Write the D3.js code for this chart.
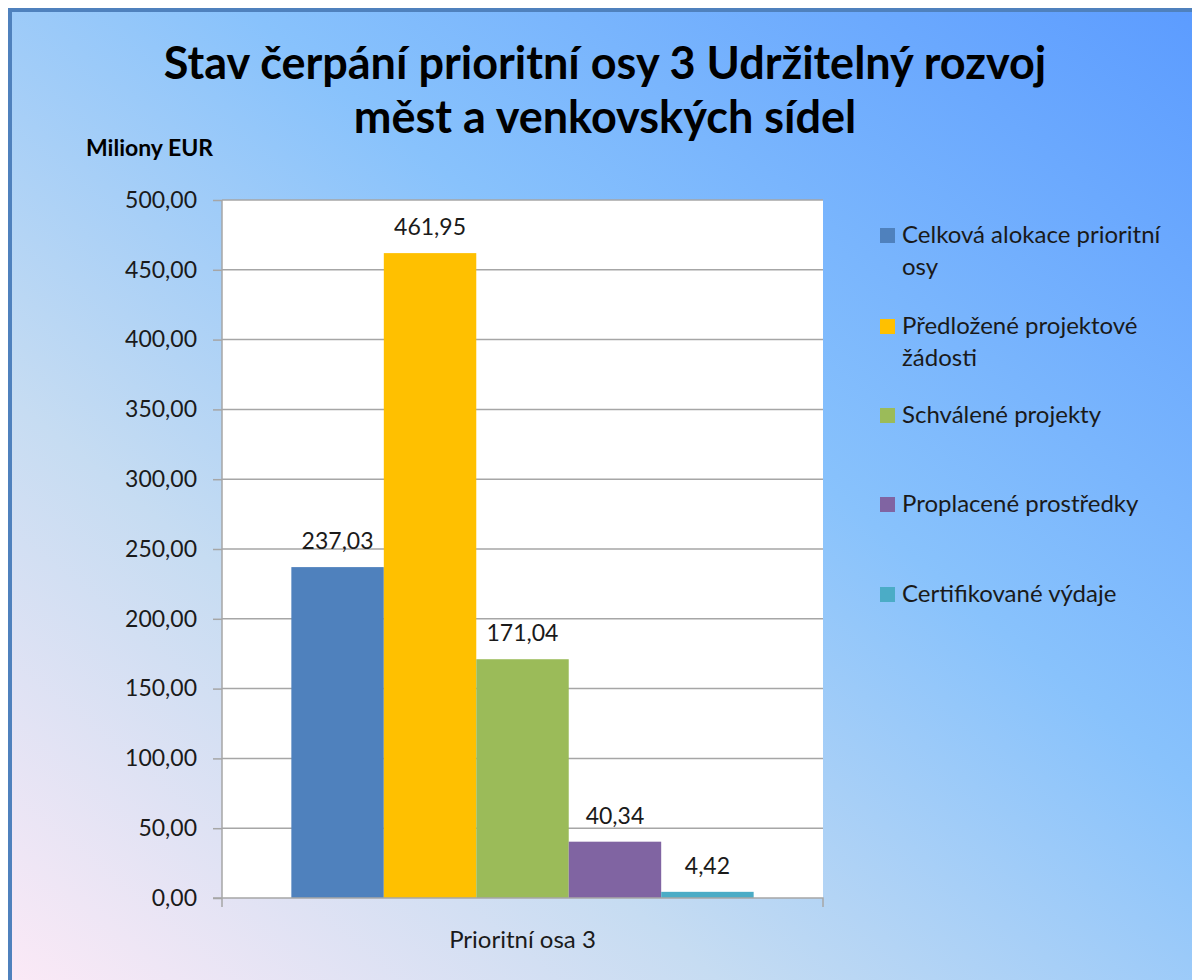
<!DOCTYPE html>
<html>
<head>
<meta charset="utf-8">
<script src="https://cdn.jsdelivr.net/npm/d3@7"></script>
<style>
  body { margin: 0; background: #fff; }
  svg text { font-family: Lato, "Open Sans", sans-serif; fill: #1a1a1a; }
</style>
</head>
<body>
<div id="wrapper"></div>
<script>
// data
const category = "Prioritní osa 3"
const series = ["Celková alokace prioritní osy", "Předložené projektové žádosti",
  "Schválené projekty", "Proplacené prostředky", "Certifikované výdaje"]
const values = [237.03, 461.95, 171.04, 40.34, 4.42]
const colors = ["#4f81bd", "#ffc000", "#9bbb59", "#8064a2", "#4bacc6"]
const legendLines = [["Celková alokace prioritní", "osy"], ["Předložené projektové", "žádosti"],
  ["Schválené projekty"], ["Proplacené prostředky"], ["Certifikované výdaje"]]
const yTicks = [0, 50, 100, 150, 200, 250, 300, 350, 400, 450, 500]
const titleLines = ["Stav čerpání prioritní osy 3 Udržitelný rozvoj", "měst a venkovských sídel"]

const cz = d3.formatLocale({ decimal: ",", thousands: " ", grouping: [3], currency: ["", " EUR"] })
const fmt = cz.format(".2f")

let dimensions = {
  width: 1192,
  height: 980,
  margin: { top: 200, right: 369, bottom: 82, left: 222 },
}
dimensions.boundedWidth = dimensions.width - dimensions.margin.left - dimensions.margin.right
dimensions.boundedHeight = dimensions.height - dimensions.margin.top - dimensions.margin.bottom

const svg = d3.select("#wrapper").append("svg")
  .attr("width", dimensions.width)
  .attr("height", dimensions.height)

// background gradient, pinkish bottom-left to blue top-right
const defs = svg.append("defs")
const grad = defs.append("linearGradient")
  .attr("id", "bg")
  .attr("x1", "0%").attr("y1", "100%")
  .attr("x2", "100%").attr("y2", "0%")
grad.append("stop").attr("offset", "0%").attr("stop-color", "#fbe9f6")
grad.append("stop").attr("offset", "30%").attr("stop-color", "#c6dcf2")
grad.append("stop").attr("offset", "60%").attr("stop-color", "#88c2fc")
grad.append("stop").attr("offset", "100%").attr("stop-color", "#5c9cff")

svg.append("rect")
  .attr("x", 10).attr("y", 10)
  .attr("width", dimensions.width - 10).attr("height", dimensions.height - 10)
  .attr("fill", "url(#bg)")
svg.append("path")
  .attr("d", `M10,${dimensions.height} V10 H${dimensions.width}`)
  .attr("fill", "none")
  .attr("stroke", "#4f81bd")
  .attr("stroke-width", 4)

// title
svg.append("g").selectAll("text")
  .data(titleLines)
  .join("text")
    .attr("x", 605)
    .attr("y", (d, i) => 79 + i * 54)
    .attr("text-anchor", "middle")
    .style("font-size", "45px")
    .style("font-weight", "bold")
    .style("fill", "#000")
    .text(d => d)

svg.append("text")
  .attr("x", 86).attr("y", 156)
  .style("font-size", "23px")
  .style("font-weight", "bold")
  .style("fill", "#000")
  .text("Miliony EUR")

const bounds = svg.append("g")
  .attr("transform", `translate(${dimensions.margin.left},${dimensions.margin.top})`)

const yScale = d3.scaleLinear()
  .domain([0, 500])
  .range([dimensions.boundedHeight, 0])

const xOuter = d3.scaleBand()
  .domain([category])
  .range([0, dimensions.boundedWidth])
  .paddingInner(0)
  .paddingOuter(0)

// gap width 150% of one bar => 5 bars + 1.5 bars of space
const barW = xOuter.bandwidth() / (series.length + 1.5)
const xInner = d3.scaleBand()
  .domain(series)
  .range([barW * 0.75, barW * 0.75 + barW * series.length])

bounds.append("rect")
  .attr("width", dimensions.boundedWidth)
  .attr("height", dimensions.boundedHeight)
  .attr("fill", "#fff")

// gridlines
bounds.append("g").selectAll("line")
  .data(yTicks.slice(1))
  .join("line")
    .attr("x1", 0).attr("x2", dimensions.boundedWidth)
    .attr("y1", d => yScale(d)).attr("y2", d => yScale(d))
    .attr("stroke", "#a6a6a6")
    .attr("stroke-width", 1.5)

// bars
bounds.append("g").selectAll("rect")
  .data(values)
  .join("rect")
    .attr("x", (d, i) => xOuter(category) + xInner(series[i]))
    .attr("y", d => yScale(d))
    .attr("width", xInner.bandwidth())
    .attr("height", d => yScale(0) - yScale(d))
    .attr("fill", (d, i) => colors[i])

bounds.append("g").selectAll("text")
  .data(values)
  .join("text")
    .attr("x", (d, i) => xOuter(category) + xInner(series[i]) + xInner.bandwidth() / 2)
    .attr("y", d => yScale(d) - 18)
    .attr("text-anchor", "middle")
    .style("font-size", "23px")
    .text(d => fmt(d))

// y axis
const yAxis = d3.axisLeft(yScale)
  .tickValues(yTicks)
  .tickFormat(fmt)
  .tickSize(9)
  .tickPadding(16)
const yAxisG = bounds.append("g").call(yAxis)
yAxisG.select(".domain").attr("stroke", "#a6a6a6").attr("stroke-width", 1.5)
  .attr("d", `M0,0V${dimensions.boundedHeight + 9}`)
yAxisG.selectAll(".tick line").attr("stroke", "#a6a6a6").attr("stroke-width", 1.5)
yAxisG.selectAll(".tick text")
  .style("font-size", "23px")
  .style("font-family", "Lato, 'Open Sans', sans-serif")
  .attr("fill", "#1a1a1a")

// x axis
const xAxis = d3.axisBottom(xOuter).tickSize(0).tickPadding(33)
const xAxisG = bounds.append("g")
  .attr("transform", `translate(0,${dimensions.boundedHeight})`)
  .call(xAxis)
xAxisG.select(".domain").attr("stroke", "#a6a6a6").attr("stroke-width", 1.5)
  .attr("d", `M-9,0H${dimensions.boundedWidth}V9`)
xAxisG.selectAll(".tick text")
  .style("font-size", "24px")
  .style("font-family", "Lato, 'Open Sans', sans-serif")
  .attr("fill", "#1a1a1a")

// legend
const legendY = [243, 334, 423, 512, 602]
const legend = svg.append("g").selectAll("g")
  .data(series)
  .join("g")
    .attr("transform", (d, i) => `translate(880,${legendY[i]})`)
legend.append("rect")
  .attr("x", 0).attr("y", -15)
  .attr("width", 15).attr("height", 15)
  .attr("fill", (d, i) => colors[i])
legend.append("text")
  .attr("x", 22)
  .style("font-size", "24px")
  .selectAll("tspan")
  .data((d, i) => legendLines[i])
  .join("tspan")
    .attr("x", 22)
    .attr("dy", (d, j) => j === 0 ? 0 : 32)
    .text(d => d)
</script>
</body>
</html>
